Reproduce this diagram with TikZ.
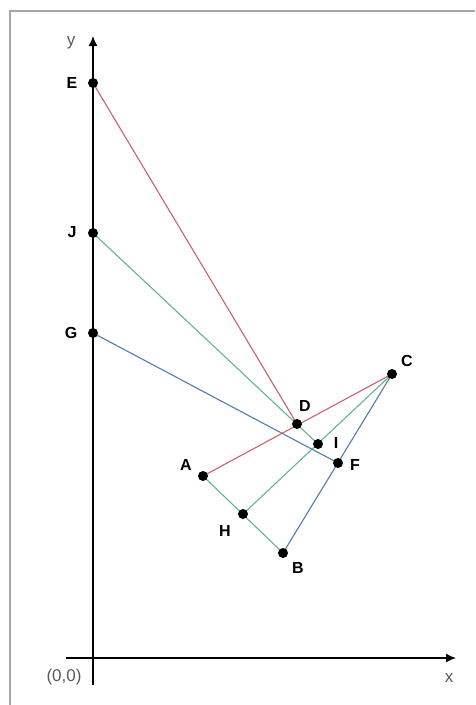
\documentclass[tikz,border=0pt]{standalone}
\usepackage{fontspec}
\setmainfont{Liberation Sans}
\usepackage{xcolor}
\usetikzlibrary{arrows.meta}
\definecolor{redline}{RGB}{205,95,105}
\definecolor{greenline}{RGB}{95,180,150}
\definecolor{blueline}{RGB}{80,125,175}
\tikzset{
  dot/.style={circle, fill=black, inner sep=0pt, minimum size=10pt},
  ptlabel/.style={font=\fontsize{16}{16}\selectfont\bfseries, inner sep=0pt},
  axislabel/.style={font=\fontsize{17}{17}\selectfont, text=black!65, inner sep=0pt},
  axis/.style={-{Latex[length=10pt,width=9pt]}, line width=1.4pt},
  redarc/.style={draw=redline, line width=1.1pt},
  greenarc/.style={draw=greenline, line width=1.1pt},
  bluearc/.style={draw=blueline, line width=1.1pt},
  frame/.style={draw=black!35, line width=1.5pt}
}

\begin{document}
\begin{tikzpicture}[x=1pt, y=-1pt]
  \useasboundingbox (0,0) rectangle (475,705);
  \draw[frame] (475,11) -- (10,11) -- (10,705);

  % axes
  \coordinate (ybot) at (93,685);
  \coordinate (ytop) at (93,36);
  \coordinate (xleft) at (66,658);
  \coordinate (xright) at (456,658);
  \draw[axis] (ybot) -- (ytop);
  \draw[axis] (xleft) -- (xright);
  \node[axislabel] (ylab) at (71,43) {y};
  \node[axislabel] (xlab) at (449,678) {x};
  \node[axislabel] (olab) at (64,677) {(0,0)};

  % points
  \coordinate (E) at (93,83);
  \coordinate (J) at (93,233);
  \coordinate (G) at (93,333);
  \coordinate (C) at (392,374);
  \coordinate (D) at (297,424);
  \coordinate (I) at (318,444);
  \coordinate (F) at (338,463);
  \coordinate (A) at (203,476);
  \coordinate (H) at (243,514);
  \coordinate (B) at (283,553);

  % lines
  \draw[redarc] (E) -- (D);
  \draw[redarc] (A) -- (C);
  \draw[greenarc] (J) -- (I);
  \draw[greenarc] (A) -- (B);
  \draw[greenarc] (H) -- (C);
  \draw[bluearc] (G) -- (F);
  \draw[bluearc] (B) -- (C);

  \foreach \p in {E,J,G,C,D,I,F,A,H,B}
    \node[dot] (dot\p) at (\p) {};

  % labels
  \node[ptlabel] (lE) at (72,83) {E};
  \node[ptlabel] (lJ) at (72,232) {J};
  \node[ptlabel] (lG) at (71,333) {G};
  \node[ptlabel] (lC) at (407,361) {C};
  \node[ptlabel] (lD) at (305,406) {D};
  \node[ptlabel] (lI) at (336,443) {I};
  \node[ptlabel] (lF) at (355,465) {F};
  \node[ptlabel] (lA) at (186,465) {A};
  \node[ptlabel] (lH) at (225,531) {H};
  \node[ptlabel] (lB) at (298,568) {B};
\end{tikzpicture}
\end{document}
